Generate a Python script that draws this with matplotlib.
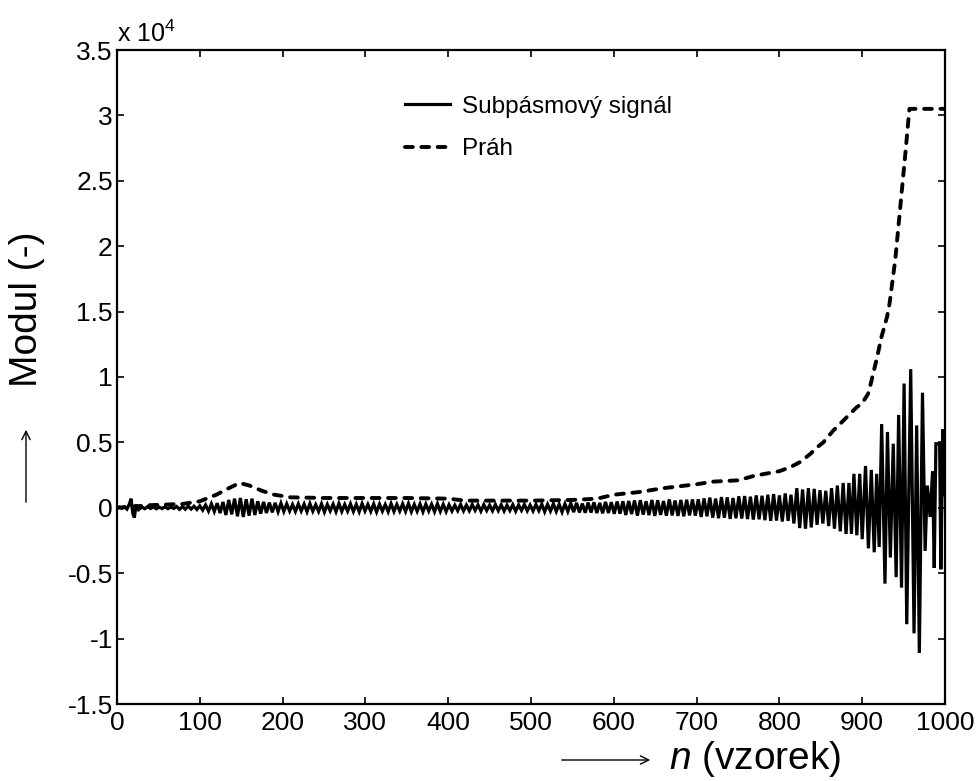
import numpy as np
import matplotlib
matplotlib.use("Agg")
import matplotlib.pyplot as plt

plt.rcParams['font.family'] = ['Liberation Sans', 'DejaVu Sans']
plt.rcParams['mathtext.fontset'] = 'custom'
plt.rcParams['mathtext.rm'] = 'Liberation Sans'
plt.rcParams['mathtext.it'] = 'Liberation Sans:italic'

# ---------------- data ----------------
# start of subband signal (explicit points)
sig_start_n = [0, 3, 6, 9, 12, 15, 17, 19, 21, 23, 26]
sig_start_v = [0, 60, -40, 80, -100, 300, 700, -400, -750, 250, -150]

# extrema of the subband signal, one every half period from n = 30
sig_mid_v = [
    # 30-70
    60, -70, 90, -50, 70, -80, 50, -60, 80, -70, 60, -50,
    # 70-100
    100, -120, 90, -110, 130, -100, 120, -130, 150,
    # 100-125
    -180, 220, -250, 300, -280, 350, -400,
    # 125-175
    450, -550, 600, -500, 700, -650, 750, -700, 650, -600, 700, -550, 500, -450,
    # 175-210
    450, -400, 400, -350, 380, -300, 350, -280, 300, -250,
    # 210-400
    250, -280, 300, -250, 280, -300, 320, -260, 240, -280,
    300, -320, 260, -240, 280, -300, 330, -280, 250, -260,
    300, -280, 270, -300, 320, -250, 260, -280, 300, -320,
    280, -260, 250, -300, 320, -280, 260, -250, 300, -280,
    330, -300, 260, -270, 290, -310, 280, -250, 270, -300,
    310, -280, 260, -290,
    # 400-550
    230, -250, 200, -220, 260, -240, 210, -230, 250, -200,
    220, -260, 240, -210, 200, -230, 250, -220, 230, -250,
    200, -210, 240, -260, 220, -200, 250, -230, 210, -240,
    260, -220, 280, -300, 260, -250, 300, -280, 270, -320,
    300, -280, 350,
    # 550-610
    -330, 380, -350, 320, -380, 400, -360, 420, -400, 380, -420, 450, -400, 430,
    -460, 480, -450,
    # 610-700
    500, -550, 520, -480, 560, -600, 580, -520, 500, -560, 600, -620, 580, -540,
    520, -600, 640, -580, 560, -620, 600, -650, 620, -580, 640, -600,
    # 700-780
    650, -700, 720, -650, 780, -750, 700, -800, 820, -760, 800, -850, 750, -800,
    880, -820, 900, -860, 850, -900, 950, -880, 920,
    # 780-880
    -950, 1000, -1000, 1050, -980, 950, -1050, 1100, -1000, 1000, -1200, 1500,
    -1550, 1400, -1600, 1500, -1500, 1450, -1300, 1350, -1200, 1300, -1400, 1500,
    -1600, 1700, -1800, 1900, -2000,
]
sig_mid_first = 30
sig_mid_step = 3.5

# large oscillations at the end (explicit)
sig_end_n = [884, 887, 890, 893.5, 897, 900, 904, 907.5, 911, 914.5,
             917.5, 920.5, 923.5, 927.5, 930.5, 934, 937.5, 941, 944, 947.5,
             950.6, 953.8, 958.6, 962.6, 965.8, 969, 972.8, 976, 978.6, 982,
             985, 987, 989, 993.5, 995, 997.5, 1000]
sig_end_v = [1900, -2000, 2600, -2100, 2600, -2400, 3200, -3100, 2900, -3400,
             2600, -3000, 6400, -5800, 5800, -3800, 4900, -5300, 7100, -6100,
             9500, -8900, 10600, -9600, 6300, -11100, 8800, -3300, 1700, -700,
             2800, -4600, 4900, 4900, -4700, 6000, 1000]

# threshold
thr_n = [0, 20, 40, 60, 80, 100, 120, 135, 148, 160, 175, 190, 210, 250, 300,
         350, 400, 420, 450, 500, 550, 580, 600, 630, 660, 700, 720, 750, 770,
         800, 813, 825, 837, 845, 853, 865, 873, 885, 893, 900, 907, 910, 913,
         918, 923, 930, 933, 940, 946, 952, 957, 960, 1000]
thr_v = [0, 100, 200, 250, 300, 500, 1000, 1500, 1900, 1700, 1300, 1000, 800,
         750, 750, 750, 700, 550, 550, 550, 600, 700, 1000, 1200, 1500, 1800,
         2000, 2100, 2450, 2800, 3100, 3500, 4100, 4600, 5000, 5900, 6400, 7160,
         7670, 8000, 8700, 9400, 10200, 11500, 13000, 14600, 15600, 19000,
         23000, 27000, 30500, 30500, 30500]

x_ticks = list(range(0, 1001, 100))
y_ticks = [-15000, -10000, -5000, 0, 5000, 10000, 15000, 20000, 25000, 30000, 35000]
y_tick_labels = ['-1.5', '-1', '-0.5', '0', '0.5', '1', '1.5', '2', '2.5', '3', '3.5']

# ---------------- assemble signal ----------------
mid_n = sig_mid_first + sig_mid_step * np.arange(len(sig_mid_v))
sig_n = np.concatenate([sig_start_n, mid_n, sig_end_n])
sig_v = np.concatenate([sig_start_v, sig_mid_v, sig_end_v])

# ---------------- figure ----------------
W, H = 976, 781
fig = plt.figure(figsize=(W / 100, H / 100), dpi=100)
ax = fig.add_axes([117/W, 1-704/H, (945-117)/W, (704-50)/H])

ax.plot(sig_n, sig_v, color='black', lw=2.3, solid_joinstyle='miter',
        label='Subpásmový signál')
ax.plot(thr_n, thr_v, color='black', lw=2.8, linestyle=(0, (2.0, 2.2)),
        dash_capstyle='round', label='Práh')

ax.set_xlim(0, 1000)
ax.set_ylim(-15000, 35000)
ax.set_xticks(x_ticks)
ax.set_xticklabels([str(v) for v in x_ticks])
ax.set_yticks(y_ticks)
ax.set_yticklabels(y_tick_labels)
ax.tick_params(direction='in', length=5, width=1.2, top=True, right=True,
               labelsize=19)
ax.tick_params(axis='y', pad=3)
ax.tick_params(axis='x', pad=5)
for s in ax.spines.values():
    s.set_linewidth(1.6)

leg = ax.legend(loc='center left', bbox_to_anchor=((405-117)/828, (704-128)/654),
                frameon=False, fontsize=17.5, handlelength=1.85, labelspacing=0.85,
                handletextpad=0.5, borderpad=0, borderaxespad=0)

fig.text(117/W, 1-42/H, 'x 10$^4$', fontsize=18, ha='left', va='baseline')

# axis labels
fig.text(669/W, 1-769/H, r'$\mathit{n}$ (vzorek)', fontsize=28, ha='left',
         va='baseline')
fig.text(27/W, 1-309/H, 'Modul (-)', fontsize=28, rotation=90,
         ha='center', va='center')

# arrows
fig.add_artist(matplotlib.patches.FancyArrowPatch(
    (559/W, 1-760/H), (653/W, 1-760/H), transform=fig.transFigure,
    arrowstyle='->,head_length=6,head_width=3', lw=1.0, color='black'))
fig.add_artist(matplotlib.patches.FancyArrowPatch(
    (26/W, 1-505/H), (26/W, 1-427/H), transform=fig.transFigure,
    arrowstyle='->,head_length=6,head_width=3', lw=1.0, color='black'))

fig.savefig('out.png', dpi=100)
